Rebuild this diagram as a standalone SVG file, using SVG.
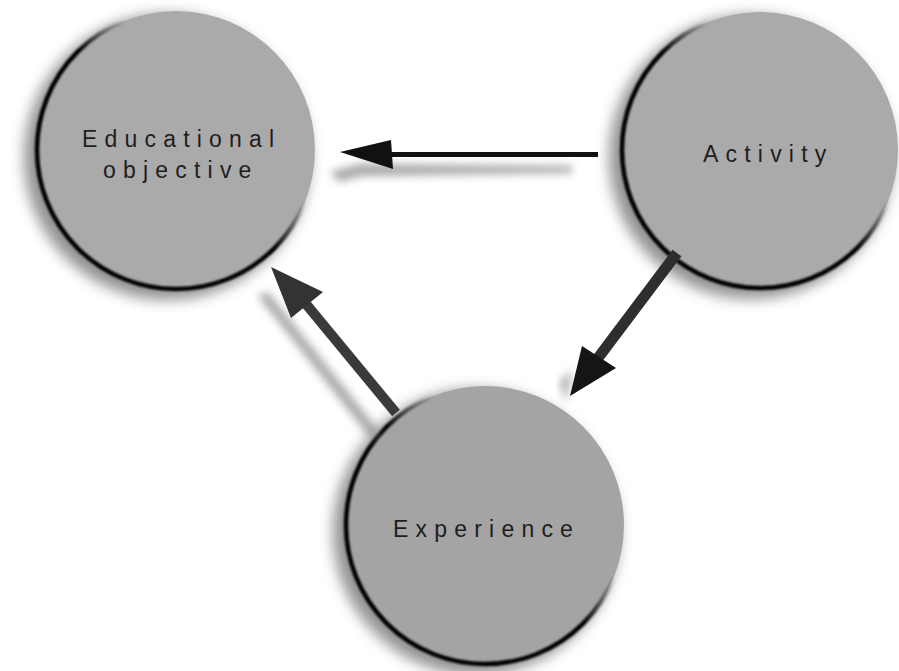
<svg xmlns="http://www.w3.org/2000/svg" width="899" height="671" viewBox="0 0 899 671">
<defs>
  <filter id="halo" x="-30%" y="-30%" width="160%" height="160%"><feGaussianBlur stdDeviation="7"/></filter>
  <filter id="soft" x="-30%" y="-30%" width="160%" height="160%"><feGaussianBlur stdDeviation="4"/></filter>
  <filter id="edge" x="-10%" y="-10%" width="120%" height="120%"><feGaussianBlur stdDeviation="0.9"/></filter>
  <linearGradient id="rim" x1="1" y1="0" x2="0" y2="1">
    <stop offset="0" stop-color="#000" stop-opacity="0"/>
    <stop offset="0.36" stop-color="#000" stop-opacity="0"/>
    <stop offset="0.5" stop-color="#000" stop-opacity="1"/>
    <stop offset="1" stop-color="#000" stop-opacity="1"/>
  </linearGradient>
</defs>
<style>
  .halo{fill:#6e6e6e;opacity:0.75;filter:url(#halo)}
  .disc{fill:#aaaaaa}
  .rim{fill:none;stroke:url(#rim);stroke-width:4.5;filter:url(#edge)}
  .lbl{font-family:"Liberation Sans",Arial,sans-serif;font-size:23px;letter-spacing:7.2px;fill:#1e1e1e}
  .shadow{fill:#8a8a8a;opacity:0.75;filter:url(#soft)}
</style>
<rect width="899" height="671" fill="#ffffff"/>

<g id="node-educational-objective">
  <circle class="halo" cx="167" cy="157" r="143"/>
  <circle class="disc" cx="176" cy="150" r="139"/>
  <circle class="rim" cx="176" cy="150" r="139"/>
  <text class="lbl" x="82" y="147">Educational</text>
  <text class="lbl" x="103" y="178">objective</text>
</g>

<g id="node-activity">
  <circle class="halo" cx="751" cy="157" r="142"/>
  <circle class="disc" cx="760" cy="150" r="138"/>
  <circle class="rim" cx="760" cy="150" r="138"/>
  <text class="lbl" x="703" y="162">Activity</text>
</g>

<g id="node-experience">
  <circle class="halo" cx="476" cy="532" r="143"/>
  <circle class="disc" cx="485" cy="525" r="139" style="fill:#a4a4a4"/>
  <circle class="rim" cx="485" cy="525" r="139"/>
  <text class="lbl" x="393" y="537">Experience</text>
</g>

<g id="connectors">
  <!-- shadows -->
  <path class="shadow" d="M330,172 L360,164 L572,166 L572,173 L360,176 L340,182 Z"/>
  <path class="shadow" d="M258,296 L268,292 L380,432 L372,440 Z"/>
  <path class="shadow" d="M560,382 L572,370 L566,402 Z"/>
  <!-- Activity -> Educational objective -->
  <g id="edge-activity-educational">
    <rect x="388" y="152" width="210" height="5" fill="#111"/>
    <polygon points="340,152 391,140 393,169" fill="#111"/>
  </g>
  <!-- Activity -> Experience -->
  <g id="edge-activity-experience">
    <line x1="677" y1="253" x2="598" y2="358" stroke="#2e2e2e" stroke-width="11"/>
    <polygon points="570,396 582,346 616,368" fill="#151515"/>
  </g>
  <!-- Experience -> Educational objective -->
  <g id="edge-experience-educational">
    <line x1="396" y1="413" x2="306" y2="304" stroke="#3a3a3a" stroke-width="10"/>
    <polygon points="271,267 291,318 323,292" fill="#333"/>
  </g>
</g>
</svg>
